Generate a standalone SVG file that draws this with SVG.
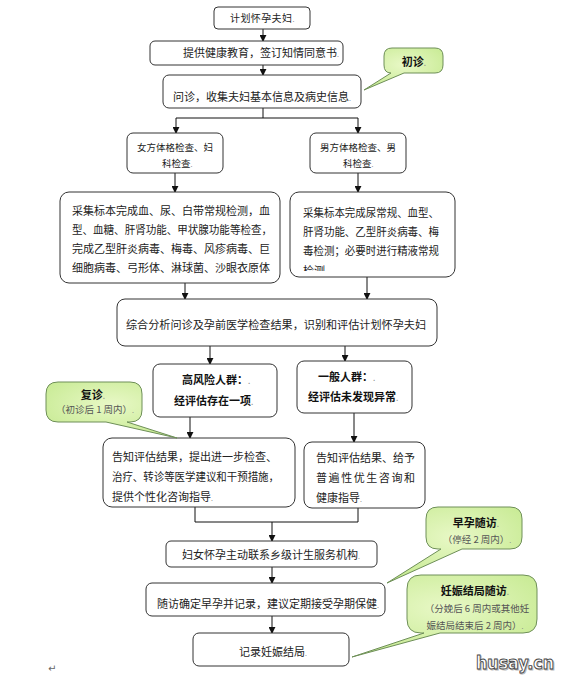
<svg xmlns="http://www.w3.org/2000/svg" width="569" height="681" viewBox="0 0 569 681">
<style>
.box{fill:#fff;stroke:#333;stroke-width:1}
.t{font-family:"Noto Sans CJK SC","Liberation Sans",sans-serif;font-size:11px;fill:#222}
.s{font-size:9.5px}
.b{font-weight:bold;fill:#111}
.g{fill:#555;font-size:9.5px}
.pm{fill:#888;font-size:7px}
.c{text-anchor:middle}
.ln{fill:none;stroke:#111;stroke-width:1}
.call{fill:url(#gr);stroke:#6e8f58;stroke-width:1}
</style>
<defs>
<marker id="ar" viewBox="0 0 8 8" refX="7" refY="4" markerWidth="7" markerHeight="7" orient="auto" markerUnits="userSpaceOnUse">
<path d="M0,0 L8,4 L0,8 Z" fill="#111"/>
</marker>
<radialGradient id="gr" cx="0.5" cy="0.4" r="0.7">
<stop offset="0" stop-color="#e8f8c6"/>
<stop offset="1" stop-color="#c4e98e"/>
</radialGradient>
<clipPath id="clip7"><rect x="290" y="192" width="165" height="79"/></clipPath>
</defs>
<rect width="569" height="681" fill="#fff"/>

<g id="connectors">
<path class="ln" d="M263,29 V41" marker-end="url(#ar)"/>
<path class="ln" d="M263,65 V75" marker-end="url(#ar)"/>
<path class="ln" d="M263,108 V118 M176,118 H358"/>
<path class="ln" d="M176,118 V133" marker-end="url(#ar)"/>
<path class="ln" d="M358,118 V133" marker-end="url(#ar)"/>
<path class="ln" d="M175,173 V192" marker-end="url(#ar)"/>
<path class="ln" d="M358,173 V192" marker-end="url(#ar)"/>
<path class="ln" d="M185,283 V299" marker-end="url(#ar)"/>
<path class="ln" d="M367,277 V299" marker-end="url(#ar)"/>
<path class="ln" d="M210,346 V364" marker-end="url(#ar)"/>
<path class="ln" d="M345,346 V361" marker-end="url(#ar)"/>
<path class="ln" d="M190,417 V438" marker-end="url(#ar)"/>
<path class="ln" d="M354,413 V442" marker-end="url(#ar)"/>
<path class="ln" d="M195,507 V522 H358 V508"/>
<path class="ln" d="M272,522 V541" marker-end="url(#ar)"/>
<path class="ln" d="M272,567 V583" marker-end="url(#ar)"/>
<path class="ln" d="M272,616 V633" marker-end="url(#ar)"/>
</g>

<g id="n1"><rect class="box" x="214" y="7" width="96" height="22" rx="4"/>
<text class="t" x="230" y="22" style="font-size:10px;letter-spacing:0.4px">计划怀孕夫妇<tspan class="pm">.</tspan></text></g>

<g id="n2"><rect class="box" x="150" y="41" width="193" height="24" rx="5"/>
<text class="t" x="183" y="57">提供健康教育，签订知情同意书<tspan class="pm">.</tspan></text></g>

<g id="n3"><rect class="box" x="163" y="75" width="198" height="33" rx="6"/>
<text class="t" x="173" y="101">问诊，收集夫妇基本信息及病史信息<tspan class="pm">.</tspan></text></g>

<g id="n4"><rect class="box" x="127" y="133" width="96" height="40" rx="6"/>
<text class="t s" x="137" y="151">女方体格检查、妇</text>
<text class="t s" x="162" y="167">科检查<tspan class="pm">.</tspan></text></g>

<g id="n5"><rect class="box" x="310" y="133" width="96" height="40" rx="6"/>
<text class="t s" x="320" y="151">男方体格检查、男</text>
<text class="t s" x="343" y="167">科检查<tspan class="pm">.</tspan></text></g>

<g id="n6"><rect class="box" x="60" y="192" width="220" height="91" rx="9"/>
<text class="t" x="72" y="215" textLength="198" lengthAdjust="spacingAndGlyphs">采集标本完成血、尿、白带常规检测，血</text>
<text class="t" x="72" y="234" textLength="200" lengthAdjust="spacingAndGlyphs">型、血糖、肝肾功能、甲状腺功能等检查，</text>
<text class="t" x="72" y="253" textLength="198" lengthAdjust="spacingAndGlyphs">完成乙型肝炎病毒、梅毒、风疹病毒、巨</text>
<text class="t" x="72" y="272" textLength="198" lengthAdjust="spacingAndGlyphs">细胞病毒、弓形体、淋球菌、沙眼衣原体</text></g>

<g id="n7"><rect class="box" x="290" y="192" width="165" height="85" rx="9"/>
<g clip-path="url(#clip7)">
<text class="t" x="303" y="217" textLength="136" lengthAdjust="spacingAndGlyphs">采集标本完成尿常规、血型、</text>
<text class="t" x="303" y="236" textLength="136" lengthAdjust="spacingAndGlyphs">肝肾功能、乙型肝炎病毒、梅</text>
<text class="t" x="303" y="255" textLength="136" lengthAdjust="spacingAndGlyphs">毒检测；必要时进行精液常规</text>
<text class="t" x="303" y="275">检测<tspan class="pm">.</tspan></text></g></g>

<g id="n8"><rect class="box" x="117" y="299" width="320" height="47" rx="8"/>
<text class="t" x="126" y="329" textLength="300" lengthAdjust="spacingAndGlyphs">综合分析问诊及孕前医学检查结果，识别和评估计划怀孕夫妇</text></g>

<g id="n9"><rect class="box" x="153" y="364" width="124" height="53" rx="7"/>
<text class="t b" x="182" y="384">高风险人群：<tspan class="pm">.</tspan></text>
<text class="t b" x="174" y="405">经评估存在一项<tspan class="pm">.</tspan></text></g>

<g id="n10"><rect class="box" x="297" y="361" width="115" height="52" rx="7"/>
<text class="t b" x="318" y="381">一般人群：<tspan class="pm">.</tspan></text>
<text class="t b" x="308" y="401">经评估未发现异常<tspan class="pm">.</tspan></text></g>

<g id="n11"><rect class="box" x="103" y="438" width="192" height="69" rx="9"/>
<text class="t" x="112" y="461" textLength="165" lengthAdjust="spacingAndGlyphs">告知评估结果，提出进一步检查、</text>
<text class="t" x="112" y="481" textLength="167" lengthAdjust="spacingAndGlyphs">治疗、转诊等医学建议和干预措施，</text>
<text class="t" x="112" y="501">提供个性化咨询指导<tspan class="pm">.</tspan></text></g>

<g id="n12"><rect class="box" x="304" y="442" width="121" height="66" rx="8"/>
<text class="t" x="316" y="462" textLength="99" lengthAdjust="spacing">告知评估结果、给予</text>
<text class="t" x="316" y="482" textLength="99" lengthAdjust="spacing">普遍性优生咨询和</text>
<text class="t" x="316" y="502">健康指导<tspan class="pm">.</tspan></text></g>

<g id="n13"><rect class="box" x="166" y="541" width="211" height="26" rx="5"/>
<text class="t" x="182" y="559">妇女怀孕主动联系乡级计生服务机构<tspan class="pm">.</tspan></text></g>

<g id="n14"><rect class="box" x="146" y="583" width="239" height="33" rx="6"/>
<text class="t" x="157" y="608">随访确定早孕并记录，建议定期接受孕期保健<tspan class="pm">.</tspan></text></g>

<g id="n15"><rect class="box" x="193" y="633" width="156" height="33" rx="6"/>
<text class="t" x="239" y="656">记录妊娠结局<tspan class="pm">.</tspan></text></g>

<g id="c1">
<path class="call" d="M392,48 H435 Q443,48 443,56 V65 Q443,73 435,73 H404 L364,90 L391,73 Q384,73 384,65 V56 Q384,48 392,48 Z"/>
<text class="t b c" x="414" y="66">初诊<tspan class="pm">.</tspan></text></g>

<g id="c2">
<path class="call" d="M58,382 H130 Q142,382 142,394 V410 Q142,422 130,422 H127 L177,438 L106,422 H58 Q46,422 46,410 V394 Q46,382 58,382 Z"/>
<text class="t b c" x="93" y="399">复诊<tspan class="pm">.</tspan></text>
<text class="t g c" x="95" y="413">（初诊后 1 周内）<tspan class="pm">.</tspan></text></g>

<g id="c3">
<path class="call" d="M438,507 H510 Q522,507 522,519 V537 Q522,549 510,549 H462 L387,583 L441,549 H438 Q426,549 426,537 V519 Q426,507 438,507 Z"/>
<text class="t b c" x="476" y="527">早孕随访<tspan class="pm">.</tspan></text>
<text class="t g c" x="477" y="543">（停经 2 周内）<tspan class="pm">.</tspan></text></g>

<g id="c4">
<path class="call" d="M421,575 H523 Q537,575 537,589 V619 Q537,633 523,633 H440 L352,657 L424,633 H421 Q407,633 407,619 V589 Q407,575 421,575 Z"/>
<text class="t b c" x="475" y="595">妊娠结局随访<tspan class="pm">.</tspan></text>
<text class="t g c" x="477" y="612">（分娩后 6 周内或其他妊</text>
<text class="t g c" x="475" y="629">娠结局结束后 2 周内）<tspan class="pm">.</tspan></text></g>

<text x="48" y="672" style="font-family:'DejaVu Sans',sans-serif;font-size:10px;fill:#666">↵</text>
<text x="477" y="670" textLength="78" lengthAdjust="spacingAndGlyphs" style="font-family:'DejaVu Sans',sans-serif;font-weight:bold;font-size:17px;fill:#bbb;stroke:#bbb;stroke-width:1">husay.cn</text>
<text x="476" y="669" textLength="78" lengthAdjust="spacingAndGlyphs" style="font-family:'DejaVu Sans',sans-serif;font-weight:bold;font-size:17px;fill:#fff;stroke:#444;stroke-width:0.9">husay.cn</text>
</svg>
